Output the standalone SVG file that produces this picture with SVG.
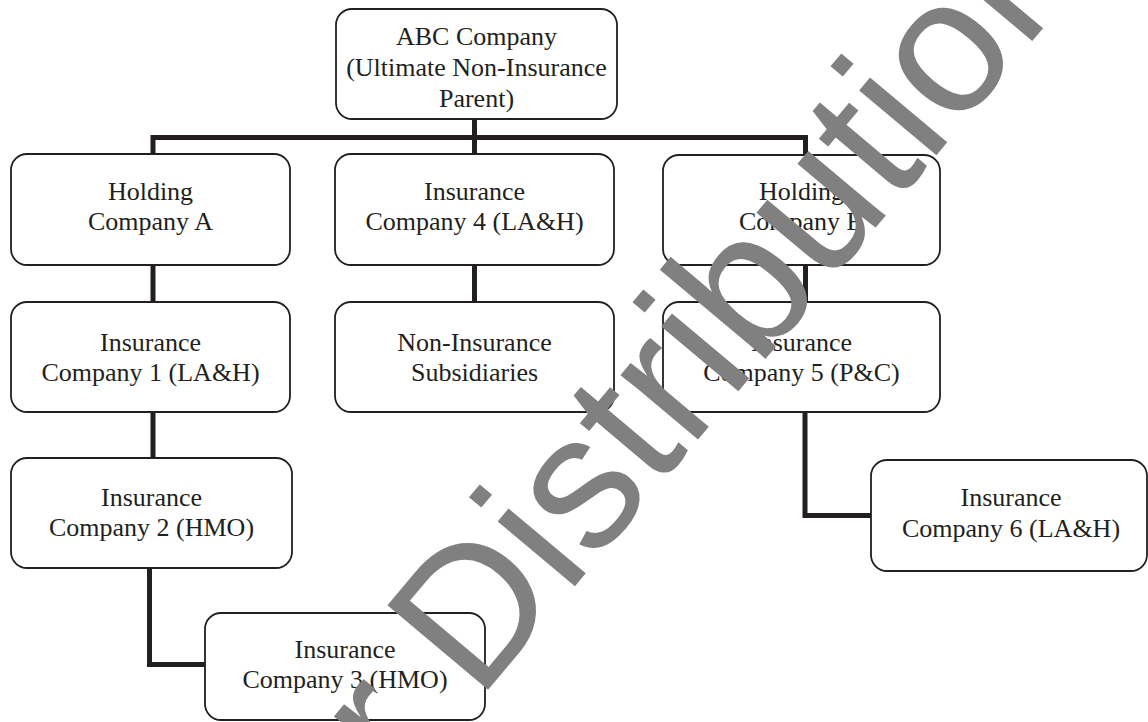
<svg xmlns="http://www.w3.org/2000/svg" width="1148" height="722" viewBox="0 0 1148 722">
<style>
.box{fill:#fff;stroke:#231f20;stroke-width:1.8}
.t{font-family:"Liberation Serif","Times New Roman",serif;font-size:26px;fill:#231f20;text-anchor:middle}
.c{fill:none;stroke:#231f20;stroke-width:5;stroke-linecap:butt;stroke-linejoin:miter}
.wm{font-family:"Liberation Sans",Arial,sans-serif;font-size:191px;fill:#808080}
</style>
<rect width="1148" height="722" fill="#fff"/>
<g id="connectors">
<path class="c" d="M474.5 119 V157"/>
<path class="c" d="M153 137.5 H805.5"/>
<path class="c" d="M153 135 V155"/>
<path class="c" d="M805.5 135 V156"/>
<path class="c" d="M153 265 V302"/>
<path class="c" d="M153 412 V458"/>
<path class="c" d="M149.5 568 V664.5 H206"/>
<path class="c" d="M474.5 265 V302"/>
<path class="c" d="M805.5 265 V302"/>
<path class="c" d="M805 412 V515.5 H872"/>
</g>
<g id="abc">
<rect class="box" x="336" y="9" width="281" height="110" rx="16"/>
<text class="t" x="476.5" y="45">ABC Company</text>
<text class="t" x="476.5" y="76">(Ultimate Non-Insurance</text>
<text class="t" x="476.5" y="107">Parent)</text>
</g>
<g id="holdingA">
<rect class="box" x="11" y="154" width="279" height="111" rx="16"/>
<text class="t" x="150.5" y="200">Holding</text>
<text class="t" x="150.5" y="230">Company A</text>
</g>
<g id="ins4">
<rect class="box" x="335" y="154" width="279" height="111" rx="16"/>
<text class="t" x="474.5" y="200">Insurance</text>
<text class="t" x="474.5" y="230">Company 4 (LA&amp;H)</text>
</g>
<g id="holdingB">
<rect class="box" x="663" y="155" width="277" height="110" rx="16"/>
<text class="t" x="801.5" y="200">Holding</text>
<text class="t" x="801.5" y="230">Company B</text>
</g>
<g id="ins1">
<rect class="box" x="11" y="302" width="279" height="110" rx="16"/>
<text class="t" x="150.5" y="351">Insurance</text>
<text class="t" x="150.5" y="381">Company 1 (LA&amp;H)</text>
</g>
<g id="nonins">
<rect class="box" x="335" y="302" width="279" height="110" rx="16"/>
<text class="t" x="474.5" y="351">Non-Insurance</text>
<text class="t" x="474.5" y="381">Subsidiaries</text>
</g>
<g id="ins5">
<rect class="box" x="663" y="302" width="277" height="110" rx="16"/>
<text class="t" x="801.5" y="351">Insurance</text>
<text class="t" x="801.5" y="381">Company 5 (P&amp;C)</text>
</g>
<g id="ins2">
<rect class="box" x="11" y="458" width="281" height="110" rx="16"/>
<text class="t" x="151.5" y="506">Insurance</text>
<text class="t" x="151.5" y="536">Company 2 (HMO)</text>
</g>
<g id="ins6">
<rect class="box" x="871" y="460" width="276" height="111" rx="16"/>
<text class="t" x="1011" y="506">Insurance</text>
<text class="t" x="1011" y="537">Company 6 (LA&amp;H)</text>
</g>
<g id="ins3">
<rect class="box" x="205" y="613" width="280" height="107" rx="16"/>
<text class="t" x="345" y="658">Insurance</text>
<text class="t" x="345" y="688">Company 3 (HMO)</text>
</g>
<g id="watermark">
<text class="wm" transform="translate(403,791) rotate(-50)">r Distribution</text>
</g>
</svg>
